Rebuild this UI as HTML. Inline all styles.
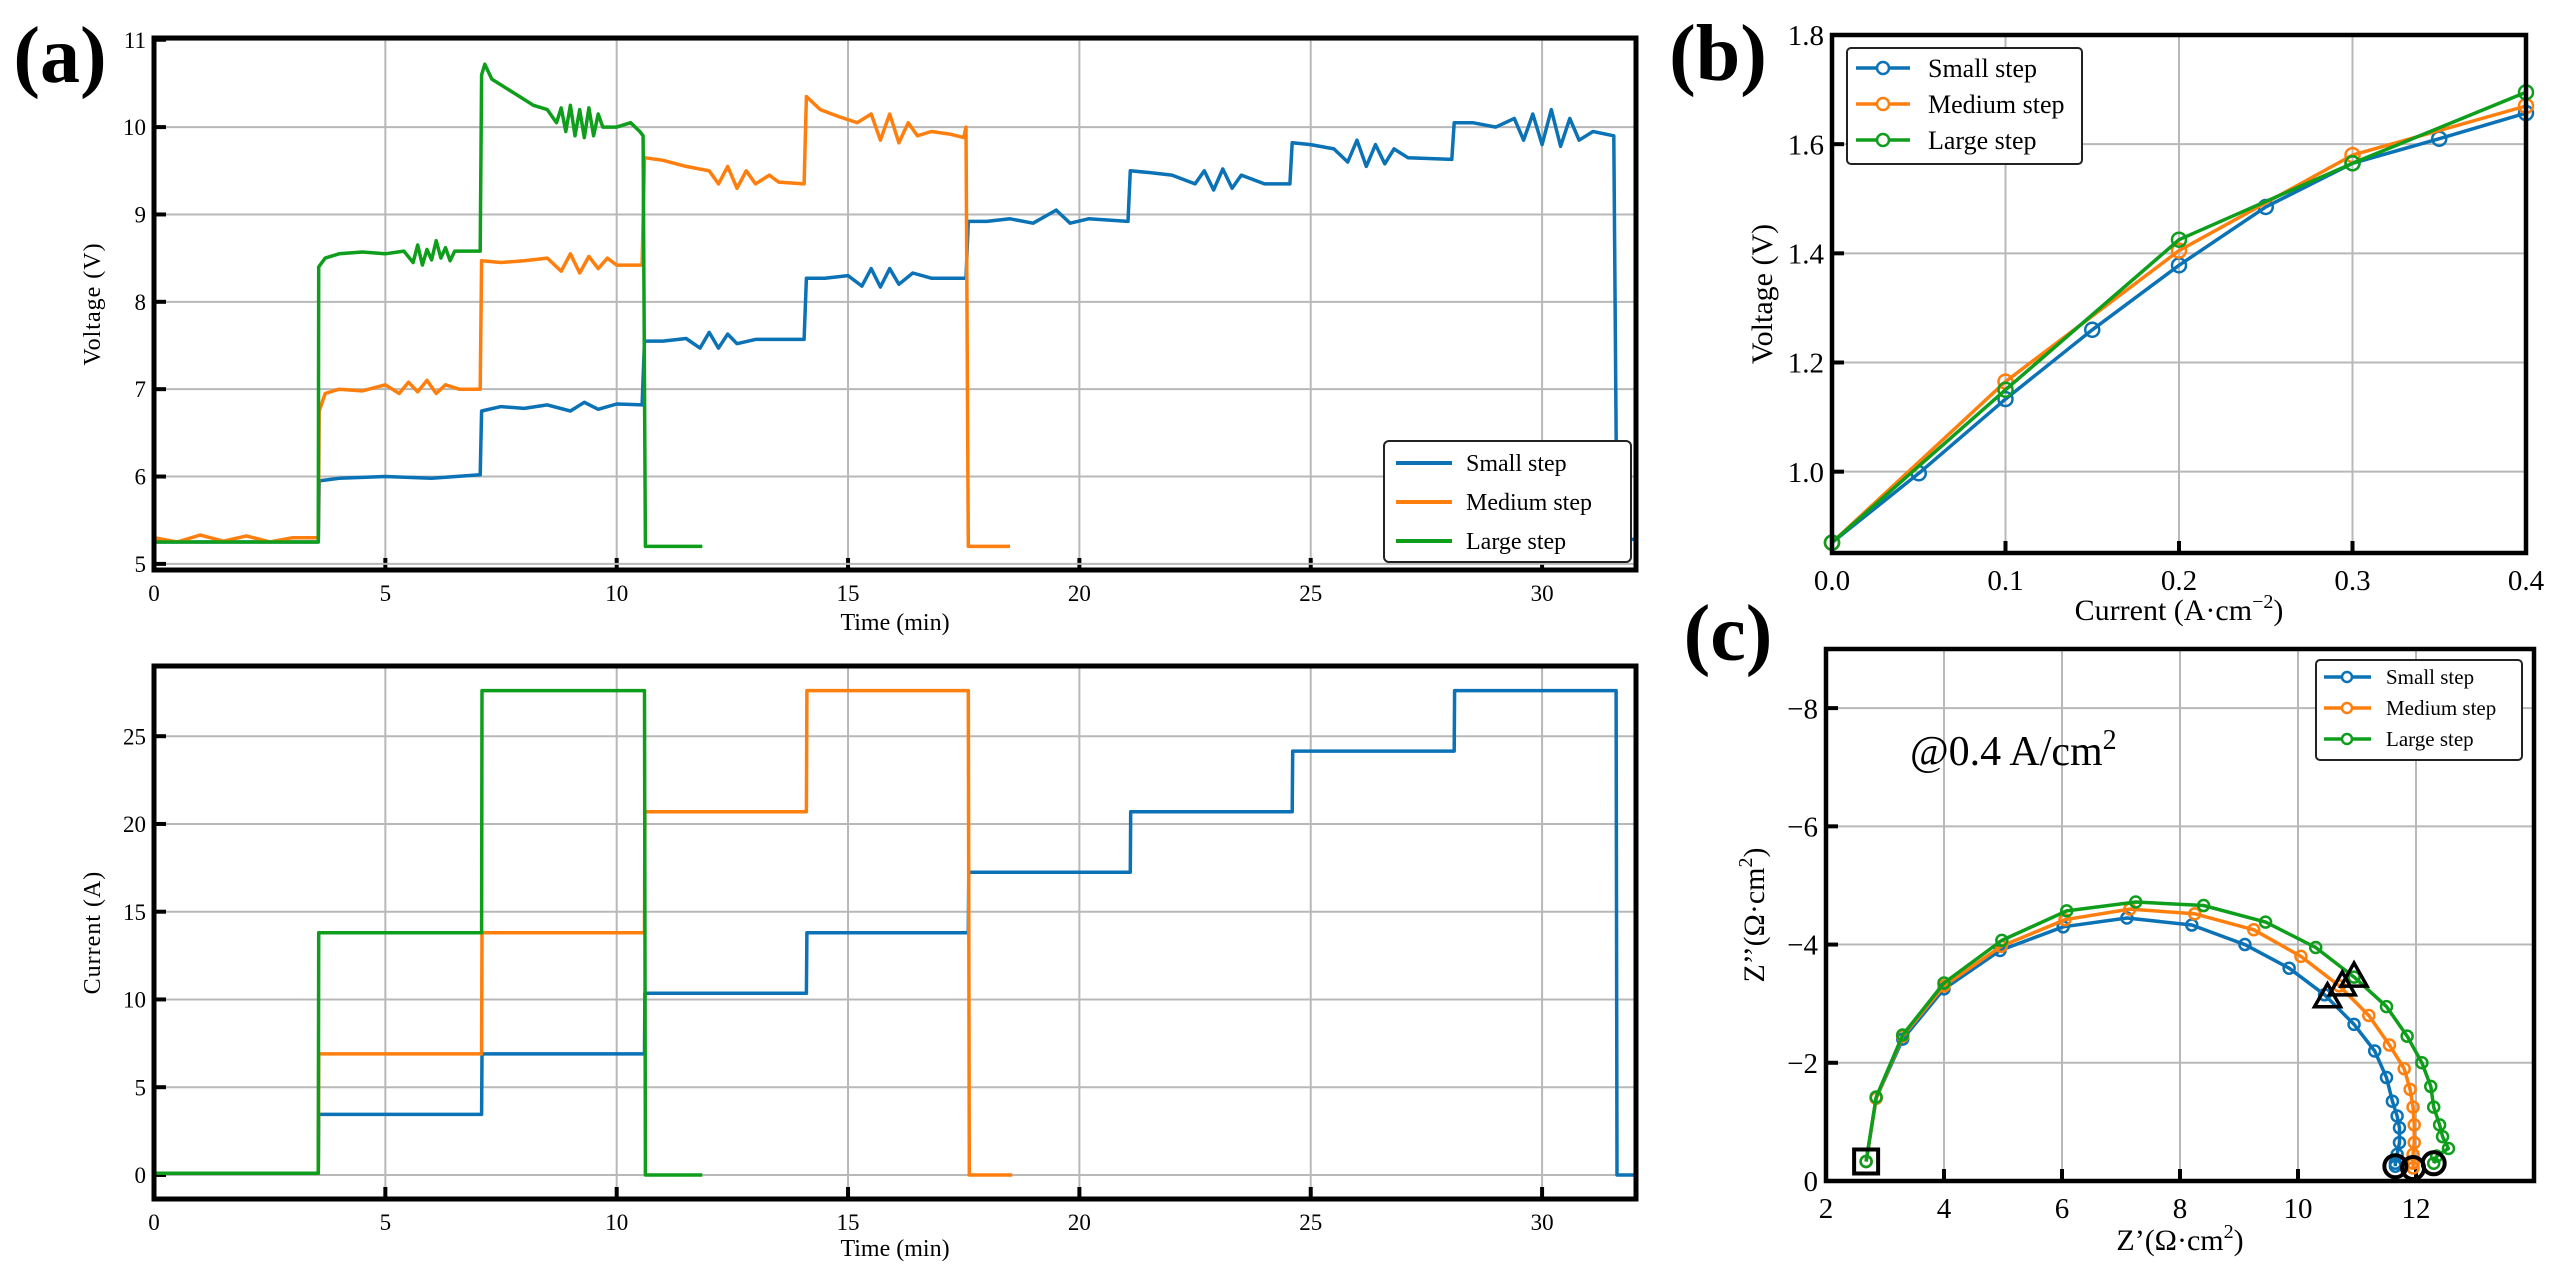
<!DOCTYPE html>
<html><head><meta charset="utf-8">
<style>
html,body{margin:0;padding:0;background:#fff;}
svg{display:block;font-family:"Liberation Serif",serif;}
</style></head>
<body>
<svg id="fig" width="2565" height="1276" viewBox="0 0 2565 1276" xmlns="http://www.w3.org/2000/svg"></svg>
<script>
// ---------- DATA ----------
const seriesNames = ["Small step","Medium step","Large step"];
const colors = ["#0b72b5","#ff7f0e","#0e9e1c"];
// (a) voltage vs time  [t(min), V]
const voltSmall = [[0,5.25],[3.55,5.25],[3.57,5.95],[4,5.98],[5,6.0],[6,5.98],[7.05,6.02],[7.08,6.75],[7.5,6.8],[8,6.78],[8.5,6.82],[9,6.75],[9.3,6.85],[9.6,6.77],[10,6.83],[10.55,6.82],[10.6,7.55],[11,7.55],[11.5,7.58],[11.8,7.47],[12,7.65],[12.2,7.47],[12.4,7.63],[12.6,7.52],[13,7.57],[14.05,7.57],[14.1,8.27],[14.5,8.27],[15,8.3],[15.3,8.18],[15.5,8.38],[15.7,8.17],[15.9,8.38],[16.1,8.2],[16.4,8.33],[16.8,8.27],[17.55,8.27],[17.6,8.92],[18,8.92],[18.5,8.95],[19,8.9],[19.5,9.05],[19.8,8.9],[20.2,8.95],[21.05,8.92],[21.1,9.5],[21.5,9.48],[22,9.45],[22.5,9.35],[22.7,9.5],[22.9,9.28],[23.1,9.52],[23.3,9.3],[23.5,9.45],[24,9.35],[24.55,9.35],[24.6,9.82],[25,9.8],[25.5,9.75],[25.8,9.6],[26,9.85],[26.2,9.55],[26.4,9.8],[26.6,9.58],[26.8,9.75],[27.1,9.65],[28.05,9.63],[28.1,10.05],[28.5,10.05],[29,10.0],[29.4,10.1],[29.6,9.85],[29.8,10.15],[30,9.8],[30.2,10.2],[30.4,9.78],[30.6,10.1],[30.8,9.85],[31.1,9.95],[31.55,9.9],[31.62,5.2],[31.85,5.2],[31.9,5.28],[32.2,5.28]];
const voltMedium = [[0,5.3],[0.5,5.25],[1,5.33],[1.5,5.26],[2,5.32],[2.5,5.25],[3,5.3],[3.55,5.3],[3.57,6.75],[3.7,6.95],[4,7.0],[4.5,6.98],[5,7.05],[5.3,6.95],[5.5,7.08],[5.7,6.97],[5.9,7.1],[6.1,6.95],[6.3,7.05],[6.6,7.0],[7.05,7.0],[7.08,8.47],[7.5,8.45],[8,8.47],[8.5,8.5],[8.8,8.35],[9,8.55],[9.2,8.33],[9.4,8.52],[9.6,8.38],[9.8,8.5],[10,8.42],[10.55,8.42],[10.6,9.65],[11,9.62],[11.5,9.55],[12,9.5],[12.2,9.35],[12.4,9.55],[12.6,9.3],[12.8,9.5],[13,9.35],[13.3,9.45],[13.5,9.37],[14.05,9.35],[14.1,10.35],[14.4,10.2],[14.8,10.12],[15.2,10.05],[15.5,10.15],[15.7,9.85],[15.9,10.15],[16.1,9.82],[16.3,10.05],[16.5,9.9],[16.8,9.95],[17.2,9.92],[17.5,9.88],[17.55,10.0],[17.6,5.2],[18.5,5.2]];
const voltLarge = [[0,5.25],[3.55,5.25],[3.56,8.4],[3.7,8.5],[4.0,8.55],[4.5,8.57],[5,8.55],[5.4,8.58],[5.6,8.45],[5.7,8.65],[5.8,8.42],[5.9,8.6],[6.0,8.48],[6.1,8.7],[6.2,8.5],[6.3,8.62],[6.4,8.47],[6.5,8.58],[7.05,8.58],[7.08,10.6],[7.15,10.72],[7.3,10.55],[7.6,10.45],[7.9,10.35],[8.2,10.25],[8.5,10.2],[8.7,10.05],[8.8,10.22],[8.9,9.95],[9.0,10.25],[9.1,9.9],[9.2,10.2],[9.3,9.88],[9.4,10.22],[9.5,9.9],[9.6,10.15],[9.7,10.0],[10.0,10.0],[10.3,10.05],[10.5,9.95],[10.57,9.9],[10.62,5.2],[11.85,5.2]];
// (a) current vs time
const currSmall = [[0,0.1],[3.55,0.1],[3.56,3.45],[7.08,3.45],[7.09,6.9],[10.6,6.9],[10.61,10.35],[14.1,10.35],[14.11,13.8],[17.6,13.8],[17.61,17.25],[21.1,17.25],[21.11,20.7],[24.6,20.7],[24.61,24.15],[28.1,24.15],[28.11,27.6],[31.6,27.6],[31.62,0],[32.2,0]];
const currMedium = [[0,0.1],[3.55,0.1],[3.56,6.9],[7.08,6.9],[7.09,13.8],[10.6,13.8],[10.61,20.7],[14.1,20.7],[14.11,27.6],[17.6,27.6],[17.62,0],[18.55,0]];
const currLarge = [[0,0.1],[3.55,0.1],[3.56,13.8],[7.08,13.8],[7.09,27.6],[10.6,27.6],[10.62,0],[11.85,0]];
// (b) polarization
const pcX_small = [0,0.05,0.1,0.15,0.2,0.25,0.3,0.35,0.4];
const pcY_small = [0.87,0.997,1.133,1.26,1.378,1.485,1.565,1.61,1.657];
const pcX_medium = [0,0.1,0.2,0.3,0.4];
const pcY_medium = [0.87,1.165,1.405,1.58,1.67];
const pcX_large = [0,0.1,0.2,0.3,0.4];
const pcY_large = [0.87,1.15,1.425,1.565,1.695];
// (c) EIS  Z' and -Z''
const zr_small = [2.68,2.85,3.3,4.0,4.95,6.02,7.1,8.2,9.1,9.85,10.45,10.95,11.3,11.5,11.6,11.68,11.72,11.72,11.68,11.65,11.65];
const zi_small = [0.33,1.4,2.4,3.25,3.9,4.3,4.45,4.33,4.0,3.6,3.15,2.65,2.2,1.75,1.35,1.1,0.9,0.65,0.45,0.3,0.25];
const zr_medium = [2.68,2.85,3.3,4.0,4.97,6.05,7.15,8.25,9.25,10.05,10.7,11.2,11.55,11.8,11.9,11.95,11.97,11.97,11.95,11.95,11.95];
const zi_medium = [0.33,1.4,2.45,3.3,3.97,4.42,4.6,4.52,4.25,3.8,3.3,2.8,2.3,1.9,1.55,1.25,0.95,0.65,0.45,0.3,0.22];
const zr_large = [2.68,2.85,3.3,4.0,4.98,6.08,7.25,8.4,9.45,10.3,10.95,11.5,11.85,12.1,12.25,12.3,12.4,12.45,12.55,12.35,12.3];
const zi_large = [0.33,1.42,2.47,3.35,4.07,4.57,4.72,4.66,4.38,3.95,3.45,2.95,2.45,2.0,1.6,1.25,0.95,0.75,0.55,0.42,0.3];
const triX = [10.5,10.75,10.95];
const triY = [3.1,3.3,3.45];
const endX = [11.65,11.95,12.3];
const endY = [0.25,0.22,0.3];
const startX = [2.68];
const startY = [0.33];
const ticksA_V = [5,6,7,8,9,10,11];
const ticksA_I = [0,5,10,15,20,25];
const ticksA_T = [0,5,10,15,20,25,30];
const ticksB_X = [0,0.1,0.2,0.3,0.4];
const ticksB_Y = [1.0,1.2,1.4,1.6,1.8];
const ticksC_X = [2,4,6,8,10,12];
const ticksC_Y = [0,-2,-4,-6,-8];

// ---------- helpers ----------
const NS="http://www.w3.org/2000/svg";
const svg=document.getElementById('fig');
function mk(tag,attrs,parent){const e=document.createElementNS(NS,tag);for(const k in attrs)e.setAttribute(k,attrs[k]);(parent||svg).appendChild(e);return e;}
function scale(d0,d1,r0,r1){return v=>r0+(v-d0)*(r1-r0)/(d1-d0);}

function axesFrame(name,L,T,R,B,sx,sy,xt,yt,xfmt,yfmt,fs,sw){
  const g=mk('g',{});
  
  
  xt.forEach(v=>{const x=sx(v);
    const gl=mk('line',{x1:x,x2:x,y1:T,y2:B,stroke:'#b8b8b8','stroke-width':2},g);
    
    const tk=mk('line',{x1:x,x2:x,y1:B,y2:B-12,stroke:'#000','stroke-width':4},g);
    
    const t=mk('text',{x:x,y:B+fs+8,'font-size':fs,'text-anchor':'middle'},g);t.textContent=xfmt(v);
    });
  yt.forEach(v=>{const y=sy(v);
    const gl=mk('line',{x1:L,x2:R,y1:y,y2:y,stroke:'#b8b8b8','stroke-width':2},g);
    
    const tk=mk('line',{x1:L,x2:L+12,y1:y,y2:y,stroke:'#000','stroke-width':4},g);
    
    const t=mk('text',{x:L-8,y:y+fs*0.35,'font-size':fs,'text-anchor':'end'},g);t.textContent=yfmt(v);
    });
  return g;
}
function spines(L,T,R,B,sw){
  const r=mk('rect',{x:L,y:T,width:R-L,height:B-T,fill:'none',stroke:'#000','stroke-width':sw});
  
}
function line(pts,sx,sy,color,w,name,clip){
  const p=mk('polyline',{points:pts.map(q=>sx(q[0]).toFixed(1)+','+sy(q[1]).toFixed(1)).join(' '),fill:'none',stroke:color,'stroke-width':w,'stroke-linejoin':'round','clip-path':clip||''});
  
}
function markers(xs,ys,sx,sy,color,r,w,name){
  xs.forEach((x,i)=>{const c=mk('circle',{cx:sx(x),cy:sy(ys[i]),r:r,fill:'none',stroke:color,'stroke-width':w});
    });
}
function label(txt,x,y,fs,rot,name,extra){
  const t=mk('text',Object.assign({x:x,y:y,'font-size':fs,'text-anchor':'middle'},rot?{transform:`rotate(-90 ${x} ${y})`}:{} ,extra||{}));
  t.innerHTML=txt;return t;
}
function clipRect(id,L,T,R,B){const d=mk('clipPath',{id:id});mk('rect',{x:L,y:T,width:R-L,height:B-T},d);}

// ---------- panel (a) top ----------
{const L=154,R=1636,T=38,B=570;
 const sx=scale(0,32.03,L,R), sy=scale(4.93,11.02,B,T);
 clipRect('ca1',L,T,R,B);
 axesFrame('voltage-axes',L,T,R,B,sx,sy,ticksA_T,ticksA_V,v=>v,v=>v,23);
 line(voltSmall,sx,sy,colors[0],3.5,'voltage-line-small','url(#ca1)');
 line(voltMedium,sx,sy,colors[1],3.5,'voltage-line-medium','url(#ca1)');
 line(voltLarge,sx,sy,colors[2],3.5,'voltage-line-large','url(#ca1)');
 spines(L,T,R,B,5);
 label('Time (min)',(L+R)/2,630,24,false,'x-axis-title-voltage');
 label('Voltage (V)',100,(T+B)/2,24,true,'y-axis-title-voltage',{'letter-spacing':'1'});
 // legend
 const lg=mk('g',{});
 mk('rect',{x:1384,y:441,width:247,height:121,rx:5,fill:'#fff',stroke:'#222','stroke-width':2},lg);
 seriesNames.forEach((n,i)=>{const y=463+i*39;
   const ln=mk('line',{x1:1396,x2:1452,y1:y,y2:y,stroke:colors[i],'stroke-width':4},lg);
   
   const t=mk('text',{x:1466,y:y+8,'font-size':24},lg);t.textContent=n;
   });
 label('(a)',60,82,80,false,'panel-label-a',{'font-weight':'bold'});
}
// ---------- panel (a) bottom ----------
{const L=154,R=1636,T=666,B=1199;
 const sx=scale(0,32.03,L,R), sy=scale(-1.37,29.0,B,T);
 clipRect('ca2',L,T,R,B);
 axesFrame('current-axes',L,T,R,B,sx,sy,ticksA_T,ticksA_I,v=>v,v=>v,23);
 line(currSmall,sx,sy,colors[0],3.5,'current-line-small','url(#ca2)');
 line(currMedium,sx,sy,colors[1],3.5,'current-line-medium','url(#ca2)');
 line(currLarge,sx,sy,colors[2],3.5,'current-line-large','url(#ca2)');
 spines(L,T,R,B,5);
 label('Time (min)',(L+R)/2,1256,24,false,'x-axis-title-current');
 label('Current (A)',100,(T+B)/2,24,true,'y-axis-title-current',{'letter-spacing':'1'});
}
// ---------- panel (b) ----------
{const L=1832,R=2526,T=35,B=553;
 const sx=scale(0,0.4,L,R), sy=scale(0.851,1.8,B,T);
 clipRect('cb',L,T,R,B);
 axesFrame('polarization-axes',L,T,R,B,sx,sy,ticksB_X,ticksB_Y,v=>v.toFixed(1),v=>v.toFixed(1),29);
 const S=[[pcX_small,pcY_small],[pcX_medium,pcY_medium],[pcX_large,pcY_large]];
 const nm=['small','medium','large'];
 S.forEach((s,i)=>{line(s[0].map((x,j)=>[x,s[1][j]]),sx,sy,colors[i],3.5,'polarization-line-'+nm[i]);
   markers(s[0],s[1],sx,sy,colors[i],7,2.5,'polarization-marker-'+nm[i]);});
 spines(L,T,R,B,4.5);
 label('Current (A·cm<tspan dy="-12" font-size="20">−2</tspan><tspan dy="12">)</tspan>',(L+R)/2,620,30,false,'x-axis-title-polarization');
 label('Voltage (V)',1772,(T+B)/2,30,true,'y-axis-title-polarization');
 const lg=mk('g',{});
 mk('rect',{x:1847,y:48,width:235,height:116,rx:4,fill:'#fff',stroke:'#222','stroke-width':2},lg);
 seriesNames.forEach((n,i)=>{const y=68+i*36;
   const ln=mk('line',{x1:1856,x2:1910,y1:y,y2:y,stroke:colors[i],'stroke-width':3.5},lg);
   
   mk('circle',{cx:1883,cy:y,r:6,fill:'#fff',stroke:colors[i],'stroke-width':2.5},lg);
   const t=mk('text',{x:1928,y:y+9,'font-size':26},lg);t.textContent=n;
   });
 label('(b)',1718,80,80,false,'panel-label-b',{'font-weight':'bold'});
}
// ---------- panel (c) ----------
{const L=1826,R=2534,T=649,B=1181;
 const sx=scale(2,14,L,R), sy=scale(0,9,B,T);
 clipRect('cc',L,T,R,B);
 axesFrame('nyquist-axes',L,T,R,B,sx,sy,ticksC_X,ticksC_Y.map(v=>-v),v=>v,v=>v===0?'0':'−'+v,29);
 const S=[[zr_small,zi_small],[zr_medium,zi_medium],[zr_large,zi_large]];
 const nm=['small','medium','large'];
 S.forEach((s,i)=>{line(s[0].map((x,j)=>[x,s[1][j]]),sx,sy,colors[i],3.5,'nyquist-line-'+nm[i],'url(#cc)');
   markers(s[0],s[1],sx,sy,colors[i],5.5,2.5,'nyquist-marker-'+nm[i]);});
 startX.forEach((x,i)=>{const c=mk('rect',{x:sx(x)-12,y:sy(startY[i])-12,width:24,height:24,fill:'none',stroke:'#000','stroke-width':4});
   });
 triX.forEach((x,i)=>{const X=sx(x),Y=sy(triY[i]);
   const c=mk('polygon',{points:`${X},${Y-14} ${X-13},${Y+9} ${X+13},${Y+9}`,fill:'none',stroke:'#000','stroke-width':3.5});
   });
 endX.forEach((x,i)=>{const c=mk('circle',{cx:sx(x),cy:sy(endY[i]),r:11,fill:'none',stroke:'#000','stroke-width':4});
   });
 spines(L,T,R,B,4.5);
 label('Z’(Ω·cm<tspan dy="-12" font-size="20">2</tspan><tspan dy="12">)</tspan>',(L+R)/2,1250,30,false,'x-axis-title-nyquist');
 label('Z’’(Ω·cm<tspan dy="-12" font-size="20">2</tspan><tspan dy="12">)</tspan>',1764,915,30,true,'y-axis-title-nyquist');
 const an=mk('text',{x:1910,y:765,'font-size':42});an.innerHTML='@0.4 A/cm<tspan dy="-16" font-size="28">2</tspan>';
 
 const lg=mk('g',{});
 mk('rect',{x:2316,y:660,width:206,height:100,rx:4,fill:'#fff',stroke:'#222','stroke-width':2},lg);
 seriesNames.forEach((n,i)=>{const y=677+i*31;
   const ln=mk('line',{x1:2324,x2:2371,y1:y,y2:y,stroke:colors[i],'stroke-width':3.5},lg);
   
   mk('circle',{cx:2347,cy:y,r:5,fill:'#fff',stroke:colors[i],'stroke-width':2.5},lg);
   const t=mk('text',{x:2386,y:y+7,'font-size':21},lg);t.textContent=n;
   });
 label('(c)',1728,660,80,false,'panel-label-c',{'font-weight':'bold'});
}
</script>
</body></html>
